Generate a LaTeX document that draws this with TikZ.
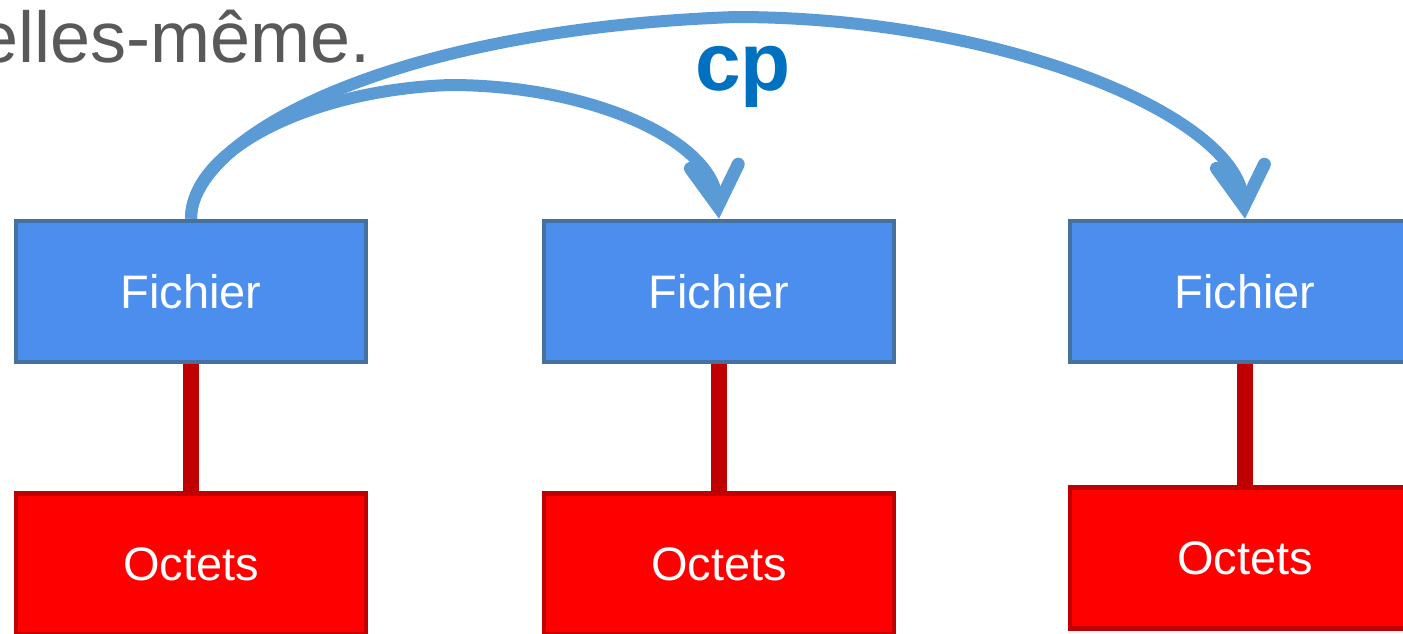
\documentclass[tikz,border=0pt]{standalone}
\usepackage{fontspec}
\setmainfont{Liberation Sans}
\usetikzlibrary{arrows.meta}
\definecolor{fichfill}{HTML}{4B8EEE}
\definecolor{fichdraw}{HTML}{44719E}
\definecolor{octfill}{HTML}{FF0000}
\definecolor{octdraw}{HTML}{C00000}
\definecolor{arrowblue}{HTML}{5B9BD5}
\definecolor{cpblue}{HTML}{0070C0}
\definecolor{textgray}{HTML}{595959}
\tikzset{
  fichbox/.style={rectangle, draw=fichdraw, fill=fichfill, line width=4.5pt,
    minimum width=350pt, minimum height=141pt, inner sep=0pt,
    text=white, font=\fontsize{47}{50}\selectfont},
  octbox/.style={rectangle, draw=octdraw, fill=octfill, line width=4.5pt,
    minimum width=350pt, minimum height=141pt, inner sep=0pt,
    text=white, font=\fontsize{47}{50}\selectfont},
  link/.style={draw=octdraw, line width=16pt},
  cparrow/.style={draw=arrowblue, line width=12pt,
    -{Straight Barb[length=40pt,width=48pt,line width=13pt,line cap=round,line join=miter]}},
}
\begin{document}
\begin{tikzpicture}[x=1pt,y=-1pt]
\useasboundingbox (0,0) rectangle (1403,634);
\node[anchor=base east, inner sep=0pt, text=textgray, font=\fontsize{72}{74}\selectfont] (title) at (371,63) {elles-même.};
\node[anchor=base, inner sep=0pt, text=cpblue, font=\fontsize{82}{84}\selectfont\bfseries] (cp) at (743,90) {cp};
\node[fichbox] (f1) at (191,291.5) {Fichier};
\node[fichbox] (f2) at (719,291.5) {Fichier};
\node[fichbox] (f3) at (1245,291.5) {Fichier};
\node[octbox] (o1) at (191,564) {Octets};
\node[octbox] (o2) at (719,564) {Octets};
\node[octbox] (o3) at (1245,558) {Octets};
\draw[link] (f1.south) -- (o1.north);
\draw[link] (f2.south) -- (o2.north);
\draw[link] (f3.south) -- (o3.north);
\coordinate (top1) at (735,17);
\coordinate (top2) at (450,85);
\draw[cparrow] (f1.north) .. controls (191,140) and (380,30) .. (top1)
  .. controls (1000,17) and (1236,115) .. (f3.north);
\draw[cparrow] (f1.north) .. controls (191,150) and (310,90) .. (top2)
  .. controls (590,85) and (712,140) .. (f2.north);
\end{tikzpicture}
\end{document}
